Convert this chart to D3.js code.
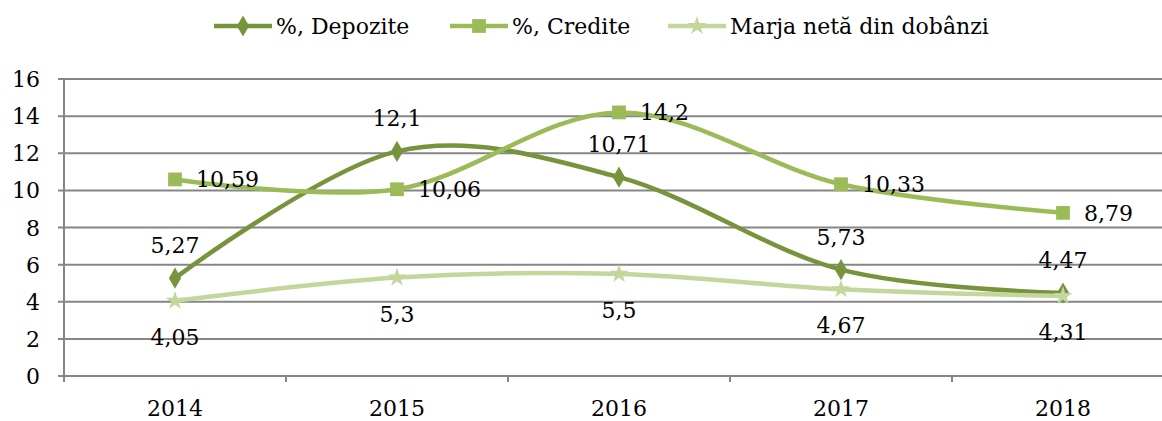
<!DOCTYPE html>
<html><head><meta charset="utf-8">
<script src="https://cdn.jsdelivr.net/npm/d3@7"></script>
<style>body{margin:0;background:#fff}svg{display:block}text{font-family:"DejaVu Serif",serif;fill:#000}</style>
</head><body><svg id="c" width="1162" height="421"></svg>
<script>
const categories = ["2014","2015","2016","2017","2018"];
const depozite = [5.27, 12.1, 10.71, 5.73, 4.47];
const credite = [10.59, 10.06, 14.2, 10.33, 8.79];
const marja = [4.05, 5.3, 5.5, 4.67, 4.31];
const seriesNames = ["%, Depozite", "%, Credite", "Marja netă din dobânzi"];
const yTicks = [0,2,4,6,8,10,12,14,16];

const fmt = v => String(v).replace(".", ",");
const svg = d3.select("#c");
const x = d3.scaleBand().domain(categories).range([64, 1174]);
const y = d3.scaleLinear().domain([0,16]).range([376, 79]);
const cx = c => x(c) + x.bandwidth()/2;
const grid = "#868686";

// gridlines
svg.append("g").selectAll("line").data(yTicks).join("line")
  .attr("x1", 58).attr("x2", 1162).attr("y1", d=>y(d)).attr("y2", d=>y(d))
  .attr("stroke", grid).attr("stroke-width", 2);
// y axis
svg.append("line").attr("x1",64).attr("x2",64).attr("y1",y(16)).attr("y2",y(0)+6).attr("stroke",grid).attr("stroke-width",2);
svg.append("g").selectAll("text").data(yTicks).join("text")
  .attr("x", 40).attr("y", d=>y(d)+8).attr("text-anchor","end").attr("font-size",22).text(d=>d);
// x axis ticks between categories
svg.append("g").selectAll("line").data(categories.slice(1)).join("line")
  .attr("x1", d=>x(d)).attr("x2", d=>x(d)).attr("y1", y(0)).attr("y2", y(0)+6)
  .attr("stroke", grid).attr("stroke-width", 2);
svg.append("g").selectAll("text").data(categories).join("text")
  .attr("x", d=>cx(d)).attr("y", 416).attr("text-anchor","middle").attr("font-size",22).text(d=>d);

const colors = ["#77933C", "#9BBB59", "#C3D69B"];
const symbols = [d3.symbolDiamond, d3.symbolSquare, d3.symbolStar];
const symSizes = [130, 190, 110];
const data = [depozite, credite, marja];
const line = d3.line().x((d,i)=>cx(categories[i])).y(d=>y(d)).curve(d3.curveCardinal.tension(0));

[0,1,2].forEach(s => {
  svg.append("path").datum(data[s]).attr("d", line).attr("fill","none")
    .attr("stroke", colors[s]).attr("stroke-width", 4.5).attr("stroke-linejoin","round");
  svg.append("g").selectAll("path").data(data[s]).join("path")
    .attr("transform", (d,i)=>`translate(${cx(categories[i])},${y(d)})`)
    .attr("d", d3.symbol().type(symbols[s]).size(symSizes[s])).attr("fill", colors[s]);
});

// data labels
svg.append("g").selectAll("text").data(depozite).join("text")
  .attr("x",(d,i)=>cx(categories[i])).attr("y",d=>y(d)-25).attr("text-anchor","middle").attr("font-size",22).text(fmt);
svg.append("g").selectAll("text").data(credite).join("text")
  .attr("x",(d,i)=>cx(categories[i])+21).attr("y",d=>y(d)+8).attr("text-anchor","start").attr("font-size",22).text(fmt);
svg.append("g").selectAll("text").data(marja).join("text")
  .attr("x",(d,i)=>cx(categories[i])).attr("y",d=>y(d)+44).attr("text-anchor","middle").attr("font-size",22).text(fmt);

// legend
const legX = [214, 450, 668];
const lg = svg.append("g").selectAll("g").data(seriesNames).join("g")
  .attr("transform",(d,i)=>`translate(${legX[i]},26)`);
lg.append("line").attr("x1",0).attr("x2",58).attr("y1",0).attr("y2",0)
  .attr("stroke",(d,i)=>colors[i]).attr("stroke-width",4.5);
lg.append("path").attr("transform","translate(29,0)")
  .attr("d",(d,i)=>d3.symbol().type(symbols[i]).size(symSizes[i])()).attr("fill",(d,i)=>colors[i]);
lg.append("text").attr("x",62).attr("y",8).attr("font-size",22).text(d=>d);
</script></body></html>
